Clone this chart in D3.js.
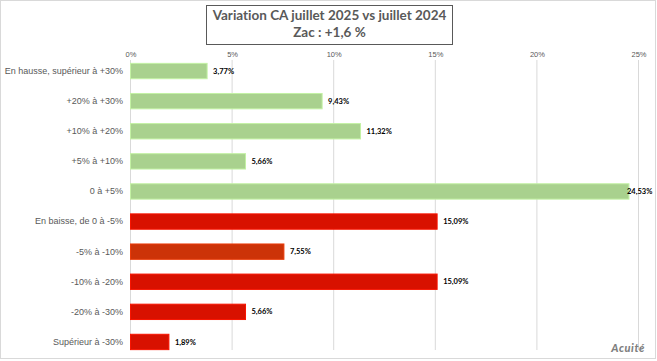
<!DOCTYPE html>
<html><head><meta charset="utf-8">
<script src="https://cdn.jsdelivr.net/npm/d3@7"></script>
<style>body{margin:0;background:#fff}svg{display:block;font-family:Lato,"Open Sans",sans-serif;font-variant-ligatures:none}</style>
</head><body><svg id="c" width="657" height="361"></svg>
<script>
const categories = ["En hausse, supérieur à +30%","+20% à +30%","+10% à +20%","+5% à +10%","0 à +5%","En baisse, de 0 à -5%","-5% à -10%","-10% à -20%","-20% à -30%","Supérieur à -30%"];
const values = [3.77, 9.43, 11.32, 5.66, 24.53, 15.09, 7.55, 15.09, 5.66, 1.89];
const barColors = ["#a9d18e","#a9d18e","#a9d18e","#a9d18e","#a9d18e","#d81100","#cc3308","#d81100","#d81100","#d81100"];
const tickValues = [0,5,10,15,20,25];
const titleLines = ["Variation CA juillet 2025 vs juillet 2024","Zac : +1,6 %"];

const svg = d3.select("#c");
svg.append("rect").attr("x",0.5).attr("y",0.5).attr("width",655).attr("height",358)
  .attr("fill","#fff").attr("stroke","#d9d9d9");

const x = d3.scaleLinear().domain([0,25]).range([130.5,638.5]);
const y = d3.scaleBand().domain(categories).range([56,357]).paddingInner(0.49).paddingOuter(0.245);

// gridlines
svg.append("g").selectAll("line").data(tickValues).join("line")
  .attr("x1",d=>x(d)).attr("x2",d=>x(d)).attr("y1",60).attr("y2",350)
  .attr("stroke","#d9d9d9").attr("stroke-width",1);

// top axis labels
const ax = svg.append("g").attr("transform","translate(0,57)")
  .call(d3.axisTop(x).tickValues(tickValues).tickFormat(d=>d+"%").tickSize(0).tickPadding(0));
ax.select(".domain").remove();
ax.selectAll("text").attr("fill","#595959").attr("font-size","7.5px").attr("dy","-0.05em");

// category labels
const ay = svg.append("g").attr("transform","translate(123,0)")
  .call(d3.axisLeft(y).tickSize(0).tickPadding(0));
ay.select(".domain").remove();
ay.selectAll("text").attr("fill","#595959").attr("font-size","9px");

// bars
svg.append("g").selectAll("rect").data(values).join("rect")
  .attr("x",x(0)).attr("y",(d,i)=>y(categories[i]))
  .attr("width",d=>x(d)-x(0)).attr("height",y.bandwidth())
  .attr("fill",(d,i)=>barColors[i])
  .attr("stroke",(d,i)=>d3.color(barColors[i]).brighter(0.4))
  .attr("stroke-width",1);

// value labels
svg.append("g").selectAll("text").data(values).join("text")
  .attr("x",d=>Math.min(x(d)+6, 627)).attr("y",(d,i)=>y(categories[i])+y.bandwidth()/2)
  .attr("dy","0.35em").attr("font-size","7.5px").attr("font-weight","bold").attr("fill","#000")
  .text(d=>d.toFixed(2).replace(".",",")+"%");

// title box
svg.append("rect").attr("x",206.5).attr("y",5.5).attr("width",246).attr("height",39)
  .attr("fill","#fff").attr("stroke","#595959").attr("stroke-width",1);
svg.append("g").selectAll("text").data(titleLines).join("text")
  .attr("x",329.5).attr("y",(d,i)=>20+i*17).attr("text-anchor","middle")
  .attr("font-size","13.5px").attr("font-weight","bold").attr("fill","#595959").text(d=>d);

// watermark
svg.append("text").attr("x",645).attr("y",352).attr("text-anchor","end")
  .attr("font-size","11px").attr("font-weight","900").attr("font-style","italic")
  .attr("letter-spacing","0.6px").attr("fill","#7f7f7f").text("Acuité");
</script></body></html>
